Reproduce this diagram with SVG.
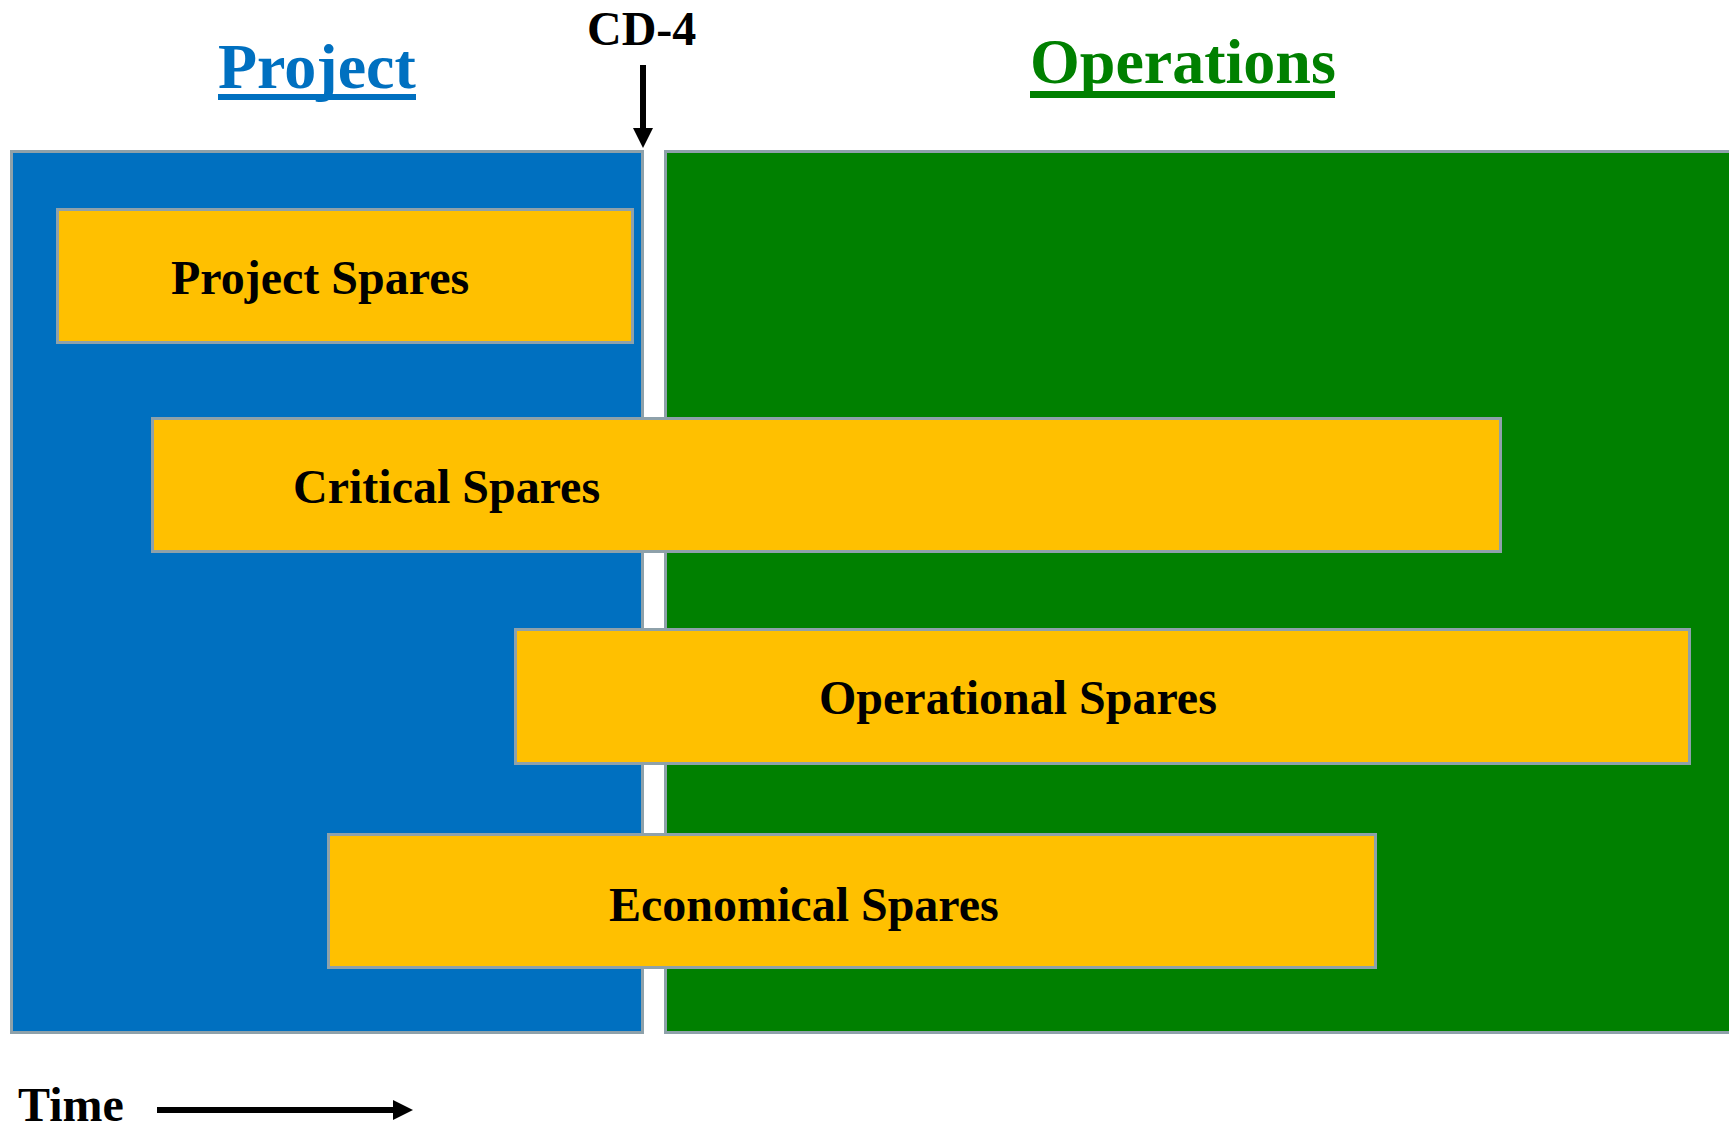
<svg xmlns="http://www.w3.org/2000/svg" width="1729" height="1129" viewBox="0 0 1729 1129">
  <style>
    .t { font-family: "Liberation Serif", "Times New Roman", serif; font-weight: bold; }
    .lbl { font-size: 48px; fill: #000000; }
    .bar { fill: #FFC000; stroke: #8EA1AA; stroke-width: 3; }
    .phase { stroke: #8EA1AA; stroke-width: 3; }
    .conn { stroke: #000000; stroke-width: 6; fill: none; }
  </style>
  <defs>
    <marker id="ah" viewBox="0 0 20 20" markerWidth="20" markerHeight="20" refX="0" refY="10" orient="auto" markerUnits="userSpaceOnUse">
      <path d="M0,0 L20,10 L0,20 z" fill="#000000"/>
    </marker>
  </defs>
  <rect width="1729" height="1129" fill="#FFFFFF"/>

  <g id="project-phase">
    <rect class="phase" x="11.5" y="151.5" width="631" height="881" fill="#0070C0"/>
  </g>
  <g id="operations-phase">
    <rect class="phase" x="665.5" y="151.5" width="1100" height="881" fill="#008000"/>
  </g>

  <g id="project-title">
    <text class="t" x="218" y="88" font-size="64" fill="#0070C0">Project</text>
    <rect x="218" y="94" width="198" height="6" fill="#0070C0"/>
  </g>
  <g id="operations-title">
    <text class="t" x="1030" y="83" font-size="64" fill="#008000">Operations</text>
    <rect x="1030" y="91" width="305" height="7" fill="#008000"/>
  </g>

  <g id="cd4">
    <text class="t lbl" x="587" y="45">CD-4</text>
  </g>

  <g id="project-spares">
    <rect class="bar" x="57.5" y="209.5" width="575" height="133"/>
    <text class="t lbl" x="171" y="294">Project Spares</text>
  </g>
  <g id="critical-spares">
    <rect class="bar" x="152.5" y="418.5" width="1348" height="133"/>
    <text class="t lbl" x="293" y="503">Critical Spares</text>
  </g>
  <g id="operational-spares">
    <rect class="bar" x="515.5" y="629.5" width="1174" height="134"/>
    <text class="t lbl" x="819" y="714">Operational Spares</text>
  </g>
  <g id="economical-spares">
    <rect class="bar" x="328.5" y="834.5" width="1047" height="133"/>
    <text class="t lbl" x="609" y="921">Economical Spares</text>
  </g>

  <g id="time">
    <text class="t lbl" x="18" y="1121">Time</text>
  </g>

  <g id="connectors">
    <line class="conn" x1="643" y1="65" x2="643" y2="128" marker-end="url(#ah)"/>
    <line class="conn" x1="157" y1="1110" x2="393" y2="1110" marker-end="url(#ah)"/>
  </g>
</svg>
